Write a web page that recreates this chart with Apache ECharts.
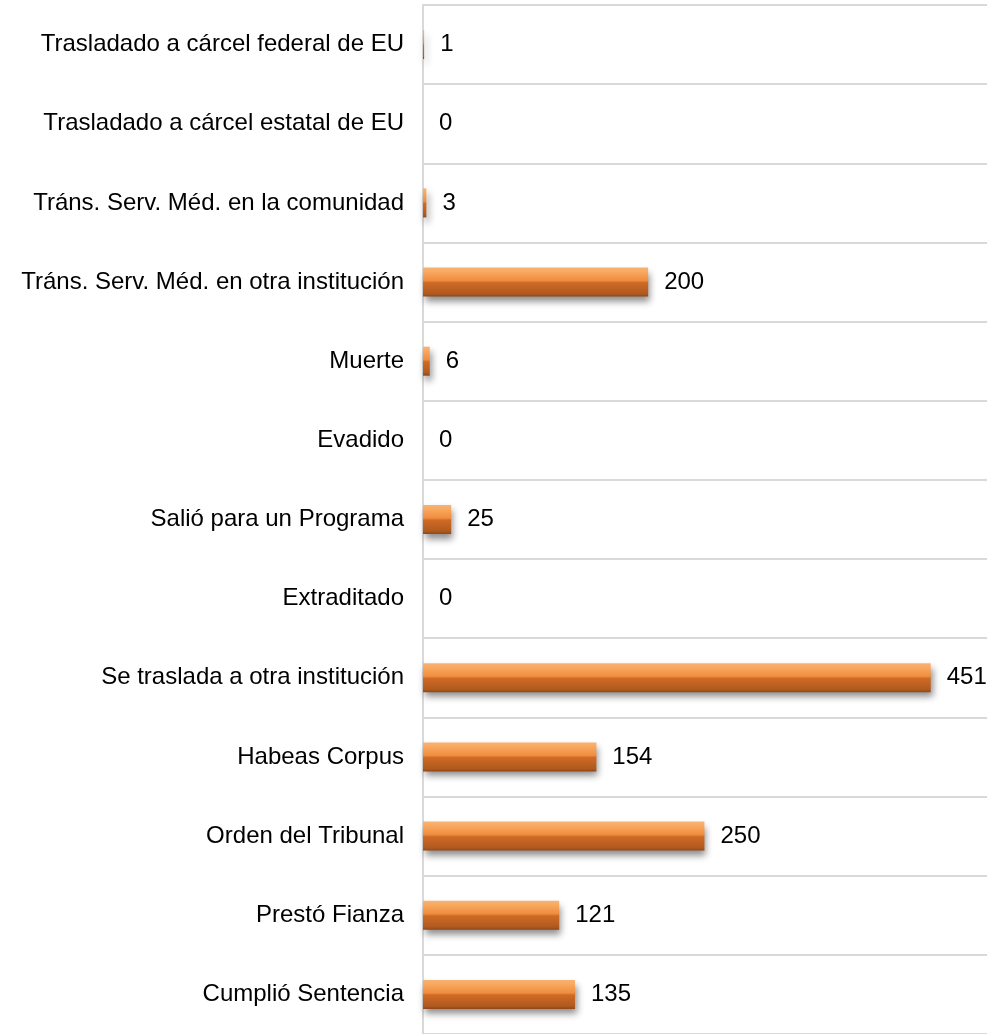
<!DOCTYPE html>
<html>
<head>
<meta charset="utf-8">
<script src="https://cdn.jsdelivr.net/npm/echarts@6/dist/echarts.min.js"></script>
<style>
  html, body { margin: 0; padding: 0; background: #fff; }
  #chart { width: 989px; height: 1034px; }
</style>
</head>
<body>
<div id="chart"></div>
<script>
// categorias de arriba hacia abajo
var categorias = [
    'Trasladado a cárcel federal de EU',
    'Trasladado a cárcel estatal de EU',
    'Tráns. Serv. Méd. en la comunidad',
    'Tráns. Serv. Méd. en otra institución',
    'Muerte',
    'Evadido',
    'Salió para un Programa',
    'Extraditado',
    'Se traslada a otra institución',
    'Habeas Corpus',
    'Orden del Tribunal',
    'Prestó Fianza',
    'Cumplió Sentencia'
];
var valores = [1, 0, 3, 200, 6, 0, 25, 0, 451, 154, 250, 121, 135];

window.onload = function(){
    var myChart = echarts.init(document.getElementById('chart'));

    var option = {
        animation: false,
        grid: {
            left: 423,
            right: 2,
            top: 5,
            bottom: -4   // la ultima linea queda fuera de la imagen
        },
        xAxis: {
            type: 'value',
            min: 0,
            max: 501,
            show: false
        },
        yAxis: {
            type: 'category',
            data: categorias,
            inverse: true,
            axisTick: { show: false },
            axisLine: {
                show: true,
                lineStyle: { color: '#d9d9d9', width: 2 }
            },
            splitLine: {
                show: true,
                lineStyle: { color: '#d9d9d9', width: 2 }
            },
            axisLabel: {
                color: '#000',
                fontFamily: 'Liberation Sans, Arial, sans-serif',
                fontSize: 24,
                margin: 19
            }
        },
        series: [
            {
                type: 'bar',
                data: valores,
                barWidth: 29,
                itemStyle: {
                    color: new echarts.graphic.LinearGradient(0, 0, 0, 1, [
                        { offset: 0, color: '#f8b272' },
                        { offset: 0.15, color: '#f9a860' },
                        { offset: 0.45, color: '#ef8d3e' },
                        { offset: 0.52, color: '#d06a25' },
                        { offset: 0.9, color: '#b05a1f' },
                        { offset: 1, color: '#8f4718' }
                    ]),
                    shadowColor: 'rgba(0,0,0,0.45)',
                    shadowBlur: 7,
                    shadowOffsetX: 2,
                    shadowOffsetY: 5
                },
                label: { // numero al final de la barra
                    show: true,
                    position: 'right',
                    distance: 16,
                    color: '#000',
                    fontFamily: 'Liberation Sans, Arial, sans-serif',
                    fontSize: 24
                }
            }
        ]
    };
    myChart.setOption(option, true);
};
</script>
</body>
</html>
